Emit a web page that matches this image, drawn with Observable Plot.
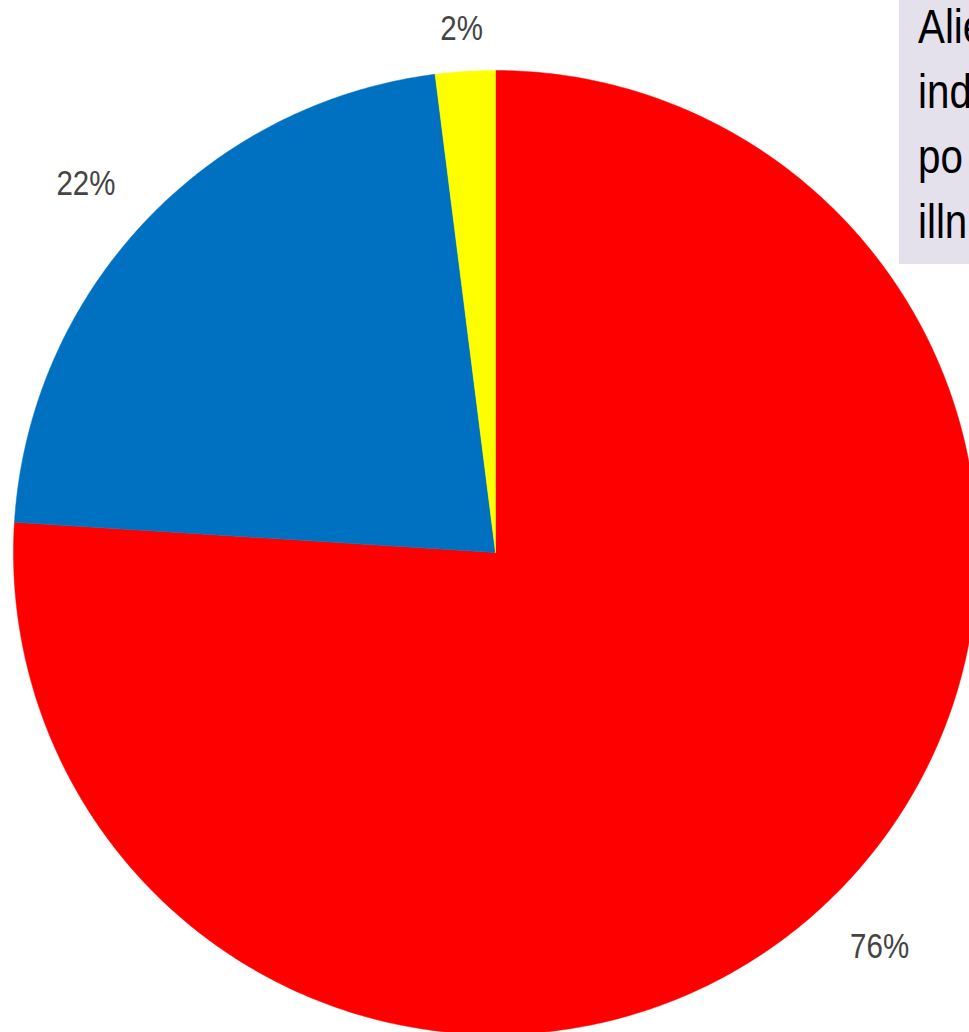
<!DOCTYPE html>
<html><head><meta charset="utf-8">
<script src="https://cdn.jsdelivr.net/npm/d3@7"></script>
<script src="https://cdn.jsdelivr.net/npm/@observablehq/plot@0.6"></script>
<style>
body{margin:0;background:#fff;overflow:hidden}
#wrap{position:relative;width:969px;height:1032px;overflow:hidden;background:#fff}
#note{position:absolute;left:899px;top:0;width:200px;height:264px;background:#e4e0ec;overflow:hidden}
#note div{position:absolute;left:19px;white-space:nowrap;font-family:"Liberation Sans",Arial,sans-serif;font-size:48px;line-height:48px;color:#000;transform:scaleX(0.84);transform-origin:0 0}
</style>
</head><body>
<div id="wrap"></div>
<script>
// Data
const categories = ["Share A", "Share B", "Share C"];
const values = [76, 22, 2];
const labels = ["76%", "22%", "2%"];
const colors = ["#ff0000", "#0070c0", "#ffff00"];
const noteLines = ["Alie", "ind", "po", "illn"];

const W = 969, H = 1032;
const cx = 495, cy = 552, R = 482; // pixel geometry of pie
const xDomain = [-cx / R, (W - cx) / R];
const yDomain = [-(H - cy) / R, cy / R];

const total = d3.sum(values);
let acc = 0;
const slices = values.map((v, i) => {
  const a0 = acc / total * 2 * Math.PI;
  acc += v;
  const a1 = acc / total * 2 * Math.PI;
  return {cat: categories[i], value: v, label: labels[i], a0, a1};
});

// polygon points for each slice (angle clockwise from 12 o'clock)
const pts = [];
for (const s of slices) {
  pts.push({cat: s.cat, x: 0, y: 0});
  const n = Math.max(2, Math.ceil((s.a1 - s.a0) / (Math.PI / 360)));
  for (let k = 0; k <= n; k++) {
    const a = s.a0 + (s.a1 - s.a0) * k / n;
    pts.push({cat: s.cat, x: Math.sin(a), y: Math.cos(a)});
  }
  pts.push({cat: s.cat, x: 0, y: 0});
}

// label positions (outside the pie)
const fs = 36;
const labelPts = slices.map(s => {
  let a = (s.a0 + s.a1) / 2;
  a -= 0.028 * Math.abs(Math.sin(a));
  const dx = Math.sin(a), dy = Math.cos(a);
  const d = (R + 28 + Math.abs(dx) * s.label.length * 14.5 + Math.abs(dy) * 13.5) / R;
  return {label: s.label, x: dx * d, y: dy * d};
});

const chart = Plot.plot({
  width: W, height: H,
  margin: 0,
  x: {domain: xDomain, axis: null},
  y: {domain: yDomain, axis: null},
  color: {type: "ordinal", domain: categories, range: colors},
  style: {background: "#fff", overflow: "visible"},
  marks: [
    Plot.line(pts, {x: "x", y: "y", z: "cat", fill: "cat", stroke: "cat", strokeWidth: 0.5, curve: "linear"}),
    Plot.text(labelPts, {x: "x", y: "y", text: "label", fill: "#444", fontSize: fs,
      fontFamily: "'Liberation Sans',Arial,sans-serif", textAnchor: "middle", lineAnchor: "middle"})
  ]
});
const wrap = document.getElementById("wrap");
wrap.appendChild(chart);
// condense label text horizontally (narrow face)
chart.querySelectorAll("text").forEach(el => {
  const b = el.getBBox();
  const c = b.x + b.width / 2;
  el.setAttribute("transform", (el.getAttribute("transform") || "") + ` translate(${c},0) scale(0.82,1) translate(${-c},0)`);
});
const note = document.createElement("div");
note.id = "note";
noteLines.forEach((t, i) => {
  const d = document.createElement("div");
  d.textContent = t;
  d.style.top = (47 + 65 * i - 44) + "px";
  note.appendChild(d);
});
wrap.appendChild(note);
</script>
</body></html>
